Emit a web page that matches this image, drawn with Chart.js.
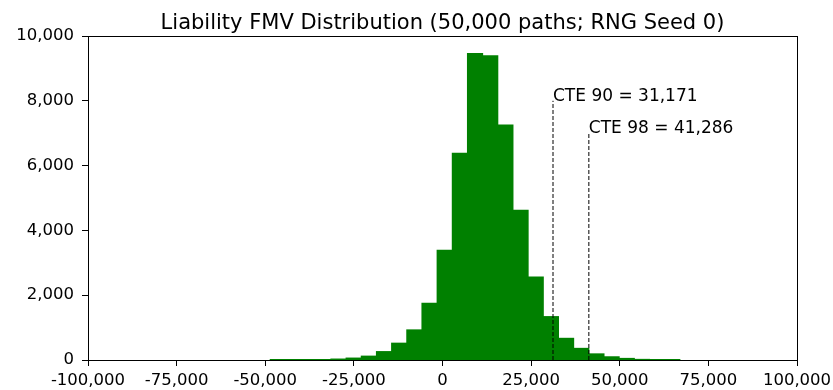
<!DOCTYPE html>
<html>
<head>
<meta charset="utf-8">
<script src="https://cdn.jsdelivr.net/npm/chart.js@4/dist/chart.umd.min.js"></script>
<style>
  html, body { margin: 0; padding: 0; background: #fff; }
  #wrap { width: 833px; height: 390px; }
</style>
</head>
<body>
<div id="wrap"><canvas id="c" width="833" height="390"></canvas></div>
<script>
// Histogram bins (centres) and path counts per bin
const binCenters = [-46460, -42180, -37900, -33620, -29340, -25060, -20780, -16500, -12220, -7940,
  -3660, 620, 4900, 9180, 13460, 17740, 22020, 26300, 30580, 34860,
  39140, 43420, 47700, 51980, 56260, 60540, 64820];
const binCounts = [3, 5, 10, 15, 30, 60, 120, 260, 520, 930,
  1750, 3390, 6380, 9460, 9390, 7250, 4620, 2560, 1340, 670,
  360, 190, 100, 50, 20, 10, 10];

// Conditional tail expectation markers: value and height of the marker line
const cteLabels = ['CTE 90', 'CTE 98'];
const cteValues = [31171, 41286];
const cteHeights = [8000, 7000];

const xTicks = [-100000, -75000, -50000, -25000, 0, 25000, 50000, 75000, 100000];
const yTicks = [0, 2000, 4000, 6000, 8000, 10000];

const chartTitle = 'Liability FMV Distribution (50,000 paths; RNG Seed 0)';

const fmt = v => Number(v).toLocaleString('en-US');
const FONT = "'DejaVu Sans', sans-serif";
const TICK_PX = 16.5;

const datasets = [{
  type: 'bar',
  data: binCenters.map((x, i) => ({ x: x, y: binCounts[i] })),
  backgroundColor: '#008000',
  borderWidth: 0,
  inflateAmount: 0.5,
  barPercentage: 1.0,
  categoryPercentage: 1.0,
  grouped: false,
  order: 2
}];
cteValues.forEach((v, i) => {
  datasets.push({
    type: 'line',
    data: [{ x: v, y: 0 }, { x: v, y: cteHeights[i] }],
    borderColor: '#000',
    borderWidth: 1,
    borderDash: [4, 2],
    pointRadius: 0,
    fill: false,
    order: 1
  });
});

// Title centred over the plot, frame around the plotting area, and CTE marker text
const decorations = {
  id: 'decorations',
  afterDatasetsDraw(chart) {
    const { ctx, chartArea: a, scales } = chart;
    ctx.save();
    ctx.fillStyle = '#000';

    ctx.font = '21px ' + FONT;
    ctx.textAlign = 'center';
    ctx.textBaseline = 'alphabetic';
    ctx.fillText(chartTitle, (a.left + a.right) / 2, 29);

    ctx.font = '17px ' + FONT;
    ctx.textAlign = 'left';
    cteValues.forEach((v, i) => {
      const px = scales.x.getPixelForValue(v);
      const py = scales.y.getPixelForValue(cteHeights[i]);
      ctx.fillText(cteLabels[i] + ' = ' + fmt(v), px, py);
    });

    ctx.strokeStyle = '#000';
    ctx.lineWidth = 1;
    ctx.strokeRect(Math.round(a.left) + 0.5, Math.round(a.top) + 0.5,
      Math.round(a.right - a.left), Math.round(a.bottom - a.top));
    ctx.restore();
  }
};

new Chart(document.getElementById('c'), {
  data: { datasets },
  options: {
    responsive: false,
    animation: false,
    events: [],
    layout: { padding: { left: 0, right: 36, top: 36, bottom: 0 } },
    plugins: {
      legend: { display: false },
      tooltip: { enabled: false },
      title: { display: false }
    },
    scales: {
      x: {
        type: 'linear',
        offset: false,
        min: -100000,
        max: 100000,
        afterBuildTicks: s => { s.ticks = xTicks.map(v => ({ value: v })); },
        afterFit: s => { s.height = 30; s.paddingLeft = 0; s.paddingRight = 0; },
        ticks: {
          color: '#000',
          font: { family: FONT, size: TICK_PX },
          padding: 5,
          maxRotation: 0,
          autoSkip: false,
          callback: v => fmt(v)
        },
        grid: { display: true, offset: false, drawOnChartArea: false, drawTicks: true, tickLength: 6, color: '#000' },
        border: { display: true, color: '#000' }
      },
      y: {
        type: 'linear',
        min: 0,
        max: 10000,
        afterBuildTicks: s => { s.ticks = yTicks.map(v => ({ value: v })); },
        afterFit: s => { s.width = 88; s.paddingTop = 0; s.paddingBottom = 0; },
        ticks: {
          color: '#000',
          font: { family: FONT, size: TICK_PX },
          padding: 8,
          callback: v => fmt(v)
        },
        grid: { display: true, drawOnChartArea: false, drawTicks: true, tickLength: 6, color: '#000' },
        border: { display: true, color: '#000' }
      }
    }
  },
  plugins: [decorations]
});
</script>
</body>
</html>
